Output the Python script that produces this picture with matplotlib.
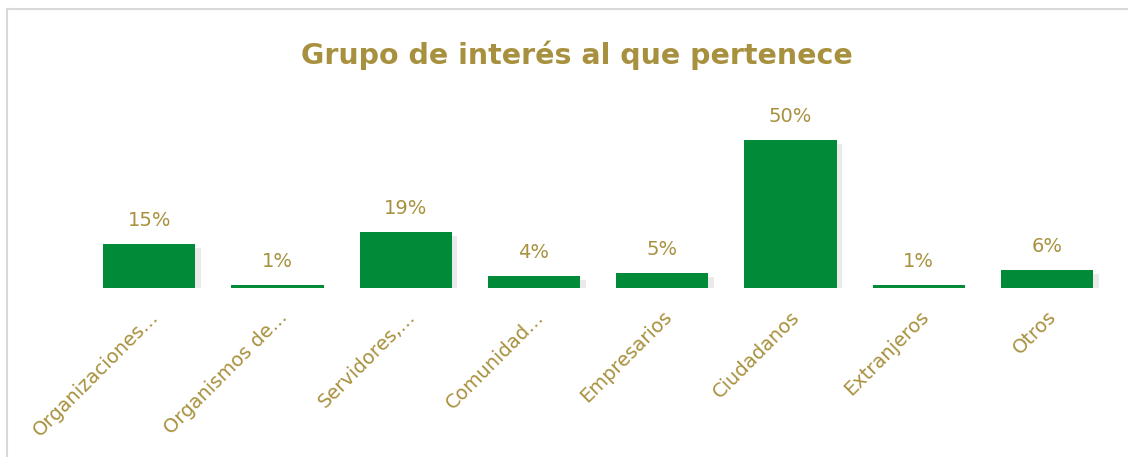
import matplotlib
matplotlib.use("Agg")
import matplotlib.pyplot as plt
import matplotlib.patheffects as pe
from matplotlib.lines import Line2D

# chart data
categories = ["Organizaciones...", "Organismos de...", "Servidores,...", "Comunidad...",
              "Empresarios", "Ciudadanos", "Extranjeros", "Otros"]
values = [15, 1, 19, 4, 5, 50, 1, 6]
value_labels = ["15%", "1%", "19%", "4%", "5%", "50%", "1%", "6%"]

green = "#018B39"
gold = "#A8913E"

fig = plt.figure(figsize=(11.28, 4.57), dpi=100)
ax = fig.add_axes([0.0754, 0.3698, 0.9096, 0.4114])

x = list(range(len(categories)))
bars = ax.bar(x, values, width=0.72, color=green, zorder=3)
for b in bars:
    b.set_path_effects([pe.SimplePatchShadow(offset=(4, -3), shadow_rgbFace="#999999", alpha=0.2),
                        pe.Normal()])

for xi, v, lab in zip(x, values, value_labels):
    ax.annotate(lab, (xi, v), xytext=(0, 10), textcoords="offset points",
                ha="center", va="bottom", color=gold, fontsize=14,
                family="DejaVu Sans")

ax.set_xlim(-0.5, len(categories) - 0.5)
ax.set_ylim(0, 63.5)
ax.set_yticks([])
ax.set_xticks(x)
ax.set_xticklabels(categories, rotation=45, ha="right", rotation_mode="anchor",
                   color=gold, fontsize=14, family="DejaVu Sans")
ax.tick_params(axis="x", length=0, pad=14)
for s in ax.spines.values():
    s.set_visible(False)

fig.text(0.511, 0.88, "Grupo de interés al que pertenece", ha="center", va="center",
         color=gold, fontsize=20.5, fontweight="bold", family="DejaVu Sans")

# chart border (left and top visible)
fig.add_artist(Line2D([7 / 1128, 7 / 1128], [0, 1 - 9 / 457], color="#D9D9D9", lw=1.5,
                      transform=fig.transFigure))
fig.add_artist(Line2D([7 / 1128, 1], [1 - 9 / 457, 1 - 9 / 457], color="#D9D9D9", lw=1.5,
                      transform=fig.transFigure))

fig.savefig("out.png", dpi=100)
